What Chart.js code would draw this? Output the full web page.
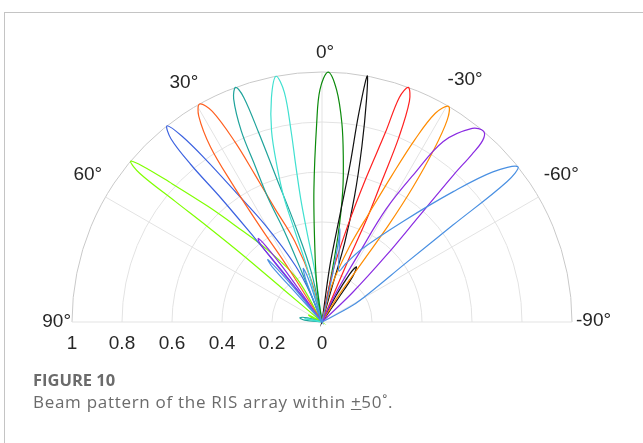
<!DOCTYPE html>
<html lang="en">
<head>
<meta charset="UTF-8">
<title>Beam pattern of the RIS array</title>
<script src="https://cdn.jsdelivr.net/npm/chart.js"></script>
<style>
  body { margin: 0; background: #fff; }
  #wrap { position: relative; width: 643px; height: 443px; overflow: hidden; }
  #frame { position: absolute; left: 4px; top: 12px; right: -2px; bottom: -2px;
           border-top: 1px solid #c4c4c4; border-left: 1px solid #c4c4c4; }
  canvas { position: absolute; left: 0; top: 0; }
  .cap { position: absolute; left: 33px; font-family: "Open Sans", "Noto Sans", sans-serif;
         color: #6b6b6b; white-space: nowrap; }
  #fig { top: 368px; font-weight: bold; font-size: 16.5px; }
  #txt { top: 390px; font-size: 17px; letter-spacing: 0.7px; }
</style>
</head>
<body>
<div id="wrap">
  <div id="frame"></div>
  <canvas id="beamChart" width="643" height="443"></canvas>
  <div class="cap" id="fig">FIGURE 10</div>
  <div class="cap" id="txt">Beam pattern of the RIS array within <u>+</u>50˚.</div>
</div>

<script>
// polar axis ticks (theta in degrees, positive = left of broadside)
const thetaTicks = [90, 60, 30, 0, -30, -60, -90];
const thetaTickLabels = ['90°', '60°', '30°', '0°', '-30°', '-60°', '-90°'];
const rTicks = [1, 0.8, 0.6, 0.4, 0.2, 0];
const rTickLabels = ['1', '0.8', '0.6', '0.4', '0.2', '0'];

// beam outlines, [theta deg, |AF| normalised]
const beamP50 = [[22,0],[30,0.2],[37,0.36],[42,0.52],[44.6,0.65],[47.5,0.83],[49,0.95],[50,1.0],[50.8,0.94],[50.6,0.76],[50.2,0.6],[49.8,0.42],[49.8,0.2],[50,0],
                 [58,0],[62,0.06],[66,0.05],[68,0]];
const beamP38 = [[16,0],[22,0.12],[25.3,0.25],[30.4,0.45],[33.7,0.63],[35.6,0.8],[37,0.93],[38.3,1.0],[39.5,0.95],[39.8,0.82],[39.2,0.64],[38.7,0.43],[37.8,0.22],[38,0]];
const beamP29 = [[10,0],[14.3,0.17],[18.6,0.34],[22.5,0.49],[24.5,0.65],[25.8,0.8],[27.5,0.95],[29.3,1.0],[30.9,0.96],[32.5,0.83],[33,0.66],[33,0.45],[32,0.25],[30,0]];
const beamP20 = [[8,0],[12,0.2],[15.5,0.4],[17.5,0.6],[18.5,0.8],[19.2,0.95],[20.2,1.0],[21.6,0.96],[22.9,0.83],[23.2,0.68],[23.5,0.54],[22.5,0.39],[22,0.22],[21,0],
                 [70,0],[74,0.06],[79,0.09],[84,0.07],[86,0]];
const beamP10 = [[5,0],[8,0.2],[9.5,0.37],[9.8,0.5],[9.5,0.64],[9.2,0.77],[9.3,0.93],[10.6,1.0],[12.7,0.92],[14.8,0.79],[16.1,0.65],[17,0.52],[16.6,0.38],[15.2,0.21],[13,0],
                 [72,0],[76,0.05],[80,0.07],[83,0]];
const beamP0 = [[12,0],[8,0.15],[5.5,0.3],[3.5,0.53],[1.5,0.8],[0.5,0.93],[-1.4,1.0],[-3.6,0.93],[-5.7,0.8],[-7.3,0.67],[-9,0.53],[-10.5,0.35],[-11.5,0.15],[-12,0]];
const beamM10 = [[-5,0],[-8,0.23],[-9.5,0.43],[-10.1,0.64],[-10,0.84],[-10.4,1.0],[-11.3,0.91],[-12.8,0.72],[-14.5,0.52],[-16,0.33],[-16,0.15],[-15,0],
                 [-26,0],[-28,0.12],[-30,0.22],[-32,0.26],[-34,0.22],[-34.5,0.12],[-33,0]];
const beamM20 = [[-8,0],[-12,0.2],[-15,0.4],[-17,0.6],[-18.5,0.8],[-19,0.95],[-20.2,1.0],[-21.6,0.95],[-22.6,0.8],[-23,0.62],[-23.5,0.45],[-23,0.25],[-22,0]];
const beamM30 = [[-10,0],[-15,0.15],[-20,0.32],[-23.5,0.48],[-25.5,0.65],[-27,0.82],[-28.5,0.95],[-30.4,1.0],[-31.8,0.95],[-33,0.82],[-34,0.65],[-34.5,0.47],[-34,0.3],[-32,0.12],[-30,0]];
const beamM40 = [[-24,0],[-25.9,0.135],[-28.4,0.32],[-29.6,0.52],[-31.8,0.69],[-33.9,0.87],[-37.8,0.98],[-40.3,1.0],[-41.5,0.97],[-41.8,0.9],[-41.8,0.79],[-42.5,0.58],[-44,0.37],[-46,0.17],[-47,0],
                 [34,0],[35.5,0.25],[36.5,0.38],[37.3,0.42],[38.3,0.4],[38.5,0.3],[38,0.15],[37,0]];
const beamM50 = [[-12,0],[-12.5,0.2],[-11.5,0.34],[-10.9,0.38],[-12,0.34],[-15,0.26],[-18.5,0.215],[-22,0.25],[-28.4,0.33],[-39,0.52],[-45.2,0.74],[-48.7,0.91],[-51.6,1.0],[-52.8,0.93],[-53.5,0.65],[-55,0.4],[-58,0.24],[-61.5,0.14],[-65,0],
                 [14,0],[17,0.15],[19.2,0.227],[21,0.18],[21,0],
                 [38,0],[39.5,0.2],[40.9,0.33],[42,0.3],[42,0.15],[41,0]];

const beamData = [beamM50, beamM40, beamM30, beamM20, beamM10, beamP0, beamP10, beamP20, beamP29, beamP38, beamP50];
const beamColors = ['#4a90e2', '#8a2be2', '#ff8c00', '#ff2020', '#111111', '#0b8a0b', '#40e0d0', '#1fa39b', '#ff5f1f', '#3c62e0', '#7fff00'];

function toXY(p) {
    let t = p[0] * Math.PI / 180;
    return { x: -p[1] * Math.sin(t), y: p[1] * Math.cos(t) };
}

const polarGrid = {
    id: 'polarGrid',
    beforeDatasetsDraw(chart) {
        const ctx = chart.ctx, sx = chart.scales.x, sy = chart.scales.y;
        const cx = sx.getPixelForValue(0), cy = sy.getPixelForValue(0);
        const R = sx.getPixelForValue(1) - cx;
        ctx.save();
        ctx.lineWidth = 1;
        rTicks.forEach(r => {
            if (r <= 0) return;
            ctx.strokeStyle = r === 1 ? '#c9c9c9' : '#e3e3e3';
            ctx.beginPath();
            ctx.arc(cx, cy, r * R, Math.PI, 2 * Math.PI);
            ctx.stroke();
        });
        ctx.strokeStyle = '#e3e3e3';
        thetaTicks.forEach(t => {
            let a = t * Math.PI / 180;
            ctx.beginPath();
            ctx.moveTo(cx, cy);
            ctx.lineTo(cx - R * Math.sin(a), cy - R * Math.cos(a));
            ctx.stroke();
        });
        ctx.restore();
    },
    afterDraw(chart) {
        const ctx = chart.ctx, sx = chart.scales.x, sy = chart.scales.y;
        const cx = sx.getPixelForValue(0), cy = sy.getPixelForValue(0);
        const R = sx.getPixelForValue(1) - cx;
        ctx.save();
        ctx.fillStyle = '#262626';
        ctx.font = '19px "Liberation Sans", Arial, sans-serif';
        ctx.textBaseline = 'middle';
        thetaTicks.forEach((t, i) => {
            let a = t * Math.PI / 180;
            if (t === 90) {
                ctx.textAlign = 'right';
                ctx.fillText(thetaTickLabels[i], cx - R - 1, cy);
            } else if (t === -90) {
                ctx.textAlign = 'left';
                ctx.fillText(thetaTickLabels[i], cx + R + 4, cy - 1);
            } else {
                ctx.textAlign = 'center';
                let rr = R * (t === 0 ? 1.075 : 1.105);
                // small nudges so the labels sit like the MATLAB ones
                let dx = (t === 0 ? 3 : 0) + (t === 60 ? 5 : 0) + (t === -30 ? 5 : 0);
                let dy = Math.abs(t) === 60 ? -9 : (t === -30 ? -3 : 0);
                ctx.fillText(thetaTickLabels[i], cx - rr * Math.sin(a) + dx, cy - rr * Math.cos(a) + dy);
            }
        });
        ctx.textAlign = 'center';
        rTicks.forEach((r, i) => {
            ctx.fillText(rTickLabels[i], cx - r * R, cy + 22);
        });
        ctx.restore();
    }
};

new Chart(document.getElementById('beamChart'), {
    type: 'scatter',
    data: {
        datasets: beamData.map((d, i) => ({
            data: d.map(toXY),
            showLine: true,
            borderColor: beamColors[i],
            borderWidth: 1.2,
            pointRadius: 0,
            tension: 0.35,
            fill: false
        }))
    },
    options: {
        responsive: false,
        animation: false,
        layout: { padding: 0 },
        plugins: { legend: { display: false }, tooltip: { enabled: false } },
        scales: {
            x: { type: 'linear', display: false, min: -1.288, max: 1.284 },
            y: { type: 'linear', display: false, min: -0.484, max: 1.288 }
        }
    },
    plugins: [polarGrid]
});
</script>
</body>
</html>
